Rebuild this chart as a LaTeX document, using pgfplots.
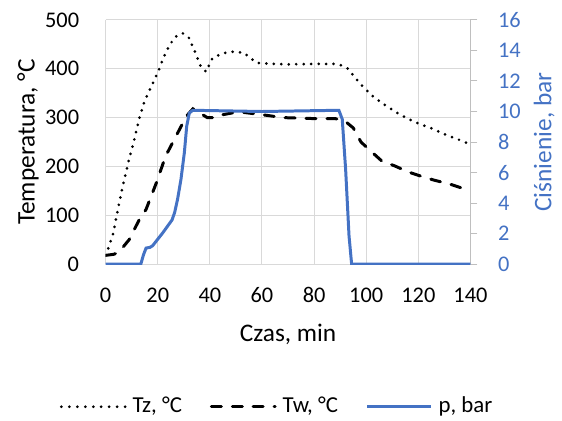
\documentclass[border=0pt]{standalone}
\usepackage{pgfplots}
\pgfplotsset{compat=1.18}
\usepackage{fontspec}
\setmainfont{Carlito}
\definecolor{pblue}{HTML}{4472C4}
\definecolor{gridgray}{HTML}{D9D9D9}
\definecolor{axgray}{HTML}{BFBFBF}

\begin{document}
\fontsize{22.5}{26}\selectfont
\begin{tikzpicture}
% temperatury (lewa os)
\begin{axis}[
    name=ax,
    scale only axis,
    width=366bp, height=245bp,
    xmin=0, xmax=140, ymin=0, ymax=500,
    xtick={0,20,...,140}, ytick={0,100,...,500},
    grid=major,
    grid style={gridgray, line width=1bp},
    axis line style={draw=none},
    major tick length=0pt,
    /pgf/number format/assume math mode=true,
    ticklabel style={font=\fontsize{22.5}{26}\selectfont},
    yticklabel style={xshift=-19bp},
    xticklabel style={yshift=-16bp},
    label style={font=\fontsize{25.5}{30}\selectfont},
    xlabel={Czas, min},
    ylabel={Temperatura, °C},
    xlabel style={at={(axis description cs:0.5,-0.286)}, anchor=center},
    ylabel style={at={(axis description cs:-0.213,0.5)}, anchor=center},
]
\addplot[black, line width=3bp, line cap=round, dash pattern=on 0pt off 7.5bp] coordinates {
(0,18) (1,32) (3,65) (5,120) (7,170) (9,215) (11,255) (13,300) (15,335) (17,358)
(20,392) (22,420) (24.5,449) (27,466) (29.5,473) (32,463) (34.5,432) (36.5,405)
(38.5,394) (41,422) (45,432) (49,435) (53,433) (56,420) (58,412) (64,410) (70,409)
(80,410) (88,410) (90,408) (93,400) (96,380) (99,362) (102,346) (105,334) (108,323)
(113,306) (119,290) (125,278) (130,266) (135,256) (140,245)
};
\addplot[black, line width=3bp, line cap=round, dash pattern=on 10bp off 11bp] coordinates {
(0,18) (3,20) (5,24) (9,50) (13,92) (15.5,112) (19.5,167) (23,221) (27,262) (31,303)
(33.5,318) (36,310) (39,300) (42,300) (45,306) (51,312) (60,306) (68,300) (80,298)
(88,298) (90,296) (92.5,290) (95,279) (98,250) (101,235) (106,211) (111,201)
(116,189) (121,180) (126,172) (132,164) (140,150)
};
\end{axis}
% cisnienie (prawa os)
\begin{axis}[
    scale only axis,
    width=366bp, height=245bp,
    xmin=0, xmax=140, ymin=0, ymax=16,
    ytick={0,2,...,16},
    axis x line=none,
    axis y line*=right,
    y axis line style={axgray, line width=1bp},
    ytick style={axgray, line width=1bp},
    major tick length=7bp,
    tick align=outside,
    /pgf/number format/assume math mode=true,
    yticklabel style={font=\fontsize{22.5}{26}\selectfont, pblue, xshift=13bp},
    ylabel={Ciśnienie, bar},
    ylabel style={font=\fontsize{25.5}{30}\selectfont, pblue, at={(axis description cs:1.202,0.5)}, anchor=center},
    legend columns=3,
    legend style={at={(axis description cs:0.47,-0.584)}, anchor=center, draw=none,
        fill=none, font=\fontsize{23}{27}\selectfont, inner xsep=0pt,
        /tikz/every odd column/.append style={column sep=4bp},
        /tikz/every even column/.append style={column sep=26bp}},
    legend image code/.code={\draw[#1] (0bp,0bp) -- (64bp,0bp);},
]
\addlegendimage{black, line width=3bp, line cap=round, dash pattern=on 0pt off 8bp}
\addlegendentry{Tz, °C}
\addlegendimage{black, line width=3bp, line cap=round, dash pattern=on 10bp off 11bp}
\addlegendentry{Tw, °C}
\addplot[pblue, line width=3bp] coordinates {
(0,0) (13.5,0) (14.5,0.6) (15.5,1.05) (17,1.1) (18,1.2) (22,2.07) (25.5,2.9)
(26.5,3.4) (27.6,4.25) (28.9,5.55) (30.2,7.3) (31.1,9.03) (32.1,9.9) (33.4,10.08)
(60,10) (89.5,10.08) (90.8,9.5) (92.1,6.2) (93.4,1.85) (94.4,0) (140,0)
};
\addlegendentry{p, bar}
\end{axis}
\path (ax.south west) ++(-106bp,-156bp) rectangle ([shift={(90bp,20bp)}]ax.north east);
\end{tikzpicture}
\end{document}
